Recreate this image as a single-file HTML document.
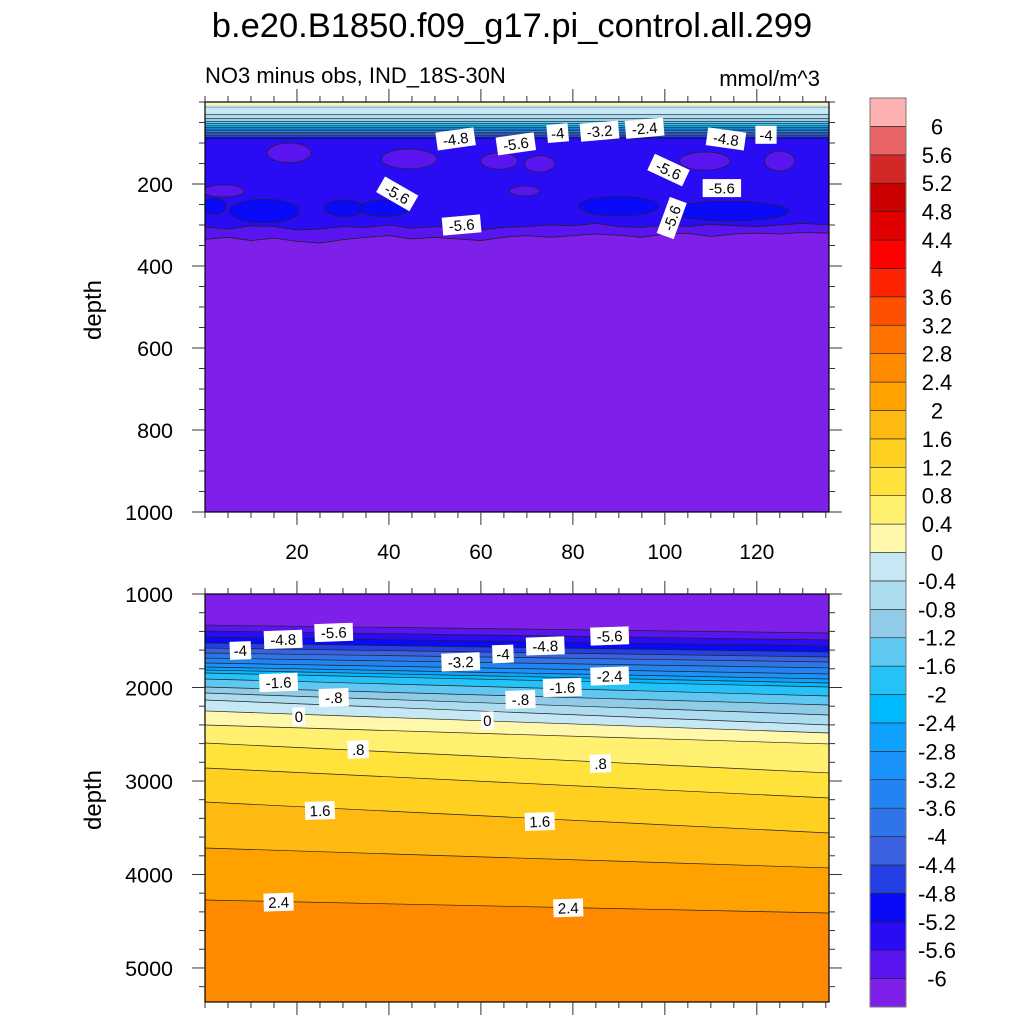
<!DOCTYPE html>
<html><head><meta charset="utf-8"><style>
html,body{margin:0;padding:0;background:#fff;}
svg{display:block;font-family:"Liberation Sans",sans-serif;}
</style></head><body>
<svg id="chart" width="1024" height="1024" viewBox="0 0 1024 1024" xmlns="http://www.w3.org/2000/svg">
<rect x="0" y="0" width="1024" height="1024" fill="#fff"/>
<text x="512" y="37" font-size="34.5" text-anchor="middle">b.e20.B1850.f09_g17.pi_control.all.299</text>
<text x="205" y="83" font-size="22">NO3 minus obs, IND_18S-30N</text>
<text x="820" y="86" font-size="22" text-anchor="end">mmol/m^3</text>
<text x="0" y="0" font-size="24" text-anchor="middle" transform="translate(101,310) rotate(-90)">depth</text>
<text x="0" y="0" font-size="24" text-anchor="middle" transform="translate(101,800) rotate(-90)">depth</text>
<g id="topPanel"></g>
<g id="botPanel"></g>
<g id="cbar"></g>
</svg>
<script>
// ---- data ----
const levels = [-6,-5.6,-5.2,-4.8,-4.4,-4,-3.6,-3.2,-2.8,-2.4,-2,-1.6,-1.2,-0.8,-0.4,0,0.4,0.8,1.2,1.6,2,2.4,2.8,3.2,3.6,4,4.4,4.8,5.2,5.6,6];
const levelLabels = ["-6","-5.6","-5.2","-4.8","-4.4","-4","-3.6","-3.2","-2.8","-2.4","-2","-1.6","-1.2","-0.8","-0.4","0","0.4","0.8","1.2","1.6","2","2.4","2.8","3.2","3.6","4","4.4","4.8","5.2","5.6","6"];
const binColors = ["#7f1fea","#5914ef","#2a0cf4","#0a0af8","#2440e4","#3a62e0","#3074ea","#2284f2","#1a92fc","#0ea2fe","#00baff","#24c2f8","#5ec8f2","#90cce8","#acdcf0","#c6e8f5","#fff8aa","#fff070","#ffe23a","#ffd020","#ffba12","#ffa200","#ff8a00","#ff7200","#ff5000","#ff2400","#ff0000","#e00000","#cc0000","#d42828","#e86464","#ffb0b0"];
const xTicks = [20,40,60,80,100,120];
const topYTicks = [200,400,600,800,1000];
const botYTicks = [1000,2000,3000,4000,5000];
// bottom panel contour lines: level, depth at left edge, depth at right edge
const botLineLevels = [-6,-5.6,-5.2,-4.8,-4.4,-4,-3.6,-3.2,-2.8,-2.4,-2,-1.6,-1.2,-0.8,-0.4,0,0.4,0.8,1.2,1.6,2,2.4];
const botLineLeft  = [1332,1396,1460,1524,1578,1631,1685,1738,1781,1813,1845,1909,1995,2059,2134,2251,2401,2594,2861,3225,3717,4273];
const botLineRight = [1417,1492,1556,1620,1674,1727,1791,1856,1909,1952,1995,2091,2187,2294,2401,2487,2604,2914,3182,3556,3930,4412];
// top panel surface contour levels and depths
const topSurfLevels = [0,-0.4,-0.8,-1.2,-1.6,-2,-2.4,-2.8,-3.2,-3.6,-4,-4.4,-4.8,-5.2];
const topSurfDepths = [12,30,40,47,53,58,62,66,70,74,78,82,86,90];
// top panel deep boundaries per column
const topColX = [0,5,10,15,20,25,30,35,40,45,50,55,60,65,70,75,80,85,90,95,100,105,110,115,120,125,130,135.7];
const topLine56 = [305,310,302,304,312,310,304,306,300,308,304,308,312,306,304,300,302,296,304,306,300,304,298,302,304,300,296,300];
const topLine60 = [335,330,338,332,340,344,336,330,326,334,330,334,338,330,326,330,326,322,325,330,322,320,328,322,320,322,318,320];
// patches: x, depth, rx (x units), ry (m)
const purpX = [18.3,44.4,64,72.8,108.7,125,4.1,69.5];
const purpD = [124,139,144,151,144,144,217,217];
const purpRX = [4.8,6,4,3.3,5.5,3.3,4.4,3.3];
const purpRY = [24,24,20,20,22,24,15,12];
const blueX = [12.9,30.3,39,114,90,2];
const blueD = [266,259,259,266,254,254];
const blueRX = [7.6,4.4,5.4,13,8.7,2.6];
const blueRY = [29,20,20,24,24,20];
// labels
const topLabText = ["-4.8","-5.6","-4","-3.2","-2.4","-4.8","-4","-5.6","-5.6","-5.6","-5.6","-5.6"];
const topLabX = [54.5,67.6,76.7,85.8,95.6,113.3,122,100.8,112.4,41.8,55.8,101.5];
const topLabD = [90,102,76,71,64,90,80,166,210,224,300,283];
const topLabRot = [-8,-8,-5,-5,-5,8,0,25,0,30,-5,-70];
const botLabText = ["-5.6","-4.8","-4","-1.6","-.8","0","0.8","1.6","2.4","-3.2","-4","-4.8","-5.6","-2.4","-1.6","-.8","0","0.8","1.6","2.4"];
const botLabX = [28,17,7.7,16,28,20.4,33.3,25,16,55.6,64.8,74,88,88,77.7,68.6,61.4,86,72.8,79];
const botLabD = [1411,1486,1604,1946,2107,2310,2663,3316,4296,1727,1641,1555,1449,1877,2000,2128,2353,2813,3433,4357];
// ---- scales ----
const TX0=205,TX1=829, XMIN=0, XMAX=135.7;
const sx = v => TX0 + (v-XMIN)/(XMAX-XMIN)*(TX1-TX0);
const TY0=102,TY1=512, sTop = d => TY0 + d/1000*(TY1-TY0);
const BY0=594,BY1=1002, BDMIN=1000, BDMAX=5364, sBot = d => BY0 + (d-BDMIN)/(BDMAX-BDMIN)*(BY1-BY0);
const NS="http://www.w3.org/2000/svg";
function mk(tag, attrs, parent){const e=document.createElementNS(NS,tag);for(const k in attrs)e.setAttribute(k,attrs[k]);parent.appendChild(e);return e;}
function binAbove(v){return binColors[levels.indexOf(v)+1];}
function binBelow(v){return binColors[levels.indexOf(v)];}
const topG=document.getElementById('topPanel'), botG=document.getElementById('botPanel'), cbG=document.getElementById('cbar');
const defs=mk('defs',{},document.getElementById('chart'));
const c1=mk('clipPath',{id:'ctop'},defs); mk('rect',{x:TX0,y:TY0,width:TX1-TX0,height:TY1-TY0},c1);
const c2=mk('clipPath',{id:'cbot'},defs); mk('rect',{x:TX0,y:BY0,width:TX1-TX0,height:BY1-BY0},c2);
const tg=mk('g',{'clip-path':'url(#ctop)'},topG);
const bg=mk('g',{'clip-path':'url(#cbot)'},botG);
// ---- top panel ----
let r=mk('rect',{x:TX0,y:TY0,width:TX1-TX0,height:TY1-TY0,fill:binColors[0]},tg);


function colPath(arr){return topColX.map((x,i)=>sx(x)+','+sTop(arr[i])).join(' ');}
function colPoly(arr,fill,nm){
  const pts=sx(XMIN)+','+TY0+' '+colPath(arr)+' '+sx(XMAX)+','+TY0;
  const p=mk('polygon',{points:pts,fill:fill,stroke:'none'},tg);
  
  
  const l=mk('polyline',{points:colPath(arr),fill:'none',stroke:'#222',"stroke-width":0.8},tg);
  
  
}
colPoly(topLine60, binAbove(-6), 'band-minus6');
colPoly(topLine56, binAbove(-5.6), 'band-minus5-6');
purpX.forEach((x,i)=>{
  const e=mk('ellipse',{cx:sx(x),cy:sTop(purpD[i]),rx:sx(x+purpRX[i])-sx(x),ry:sTop(purpRY[i])-sTop(0),fill:binAbove(-6),stroke:'#222','stroke-width':0.7},tg);
  
  
});
blueX.forEach((x,i)=>{
  const e=mk('ellipse',{cx:sx(x),cy:sTop(blueD[i]),rx:sx(x+blueRX[i])-sx(x),ry:sTop(blueRY[i])-sTop(0),fill:binAbove(-5.2),stroke:'#222','stroke-width':0.7},tg);
  
  
});
for(let i=topSurfLevels.length-1;i>=0;i--){
  const y=sTop(topSurfDepths[i]);
  const p=mk('rect',{x:TX0,y:TY0,width:TX1-TX0,height:y-TY0,fill:binAbove(topSurfLevels[i])},tg);
  
  
  const l=mk('line',{x1:TX0,x2:TX1,y1:y,y2:y,stroke:'#222','stroke-width':0.6},tg);
  
  
}
{const y=sTop(topSurfDepths[0]);const p=mk('rect',{x:TX0,y:TY0,width:TX1-TX0,height:y-TY0-1,fill:binAbove(0)},tg);
 
 mk('rect',{x:TX0,y:TY0+3,width:TX1-TX0,height:y-TY0-3,fill:binBelow(0)},tg);}
// ---- bottom panel ----
r=mk('rect',{x:TX0,y:BY0,width:TX1-TX0,height:BY1-BY0,fill:binAbove(2.4)},bg);


for(let i=botLineLevels.length-1;i>=0;i--){
  const yl=sBot(botLineLeft[i]), yr=sBot(botLineRight[i]);
  const p=mk('polygon',{points:`${TX0},${BY0} ${TX0},${yl} ${TX1},${yr} ${TX1},${BY0}`,fill:binBelow(botLineLevels[i])},bg);
  
  
}
botLineLevels.forEach((v,i)=>{
  const l=mk('line',{x1:TX0,y1:sBot(botLineLeft[i]),x2:TX1,y2:sBot(botLineRight[i]),stroke:'#222','stroke-width':0.7},bg);
  
  
});
// ---- labels ----
function label(g,txt,x,y,rot,nm){
  const gg=mk('g',{transform:`translate(${x},${y}) rotate(${rot})`},g);
  
  
  const w=txt.length*8.6+4;
  mk('rect',{x:-w/2,y:-9,width:w,height:18,fill:'#fff'},gg);
  const t=mk('text',{x:0,y:5.5,'font-size':15,'text-anchor':'middle'},gg);
  t.textContent=txt;
}
topLabText.forEach((t,i)=>label(tg,t,sx(topLabX[i]),sTop(topLabD[i]),topLabRot[i],'top-contour-label'));
botLabText.forEach((t,i)=>label(bg,t.replace(/^0\./,'.'),sx(botLabX[i]),sBot(botLabD[i]),-2,'bottom-contour-label'));
// ---- axes ----
function frame(g,y0,y1,yticks,minorStep,dmin,dmax,sy,showX,nm){
  const f=mk('rect',{x:TX0,y:y0,width:TX1-TX0,height:y1-y0,fill:'none',stroke:'#000','stroke-width':1.2},g);
  
  
  for(let v=0;v<=XMAX;v+=5){
    const major=xTicks.includes(v);const L=major?13:6;const x=sx(v);
    mk('line',{x1:x,x2:x,y1:y0,y2:y0-L,stroke:'#333','stroke-width':1},g);
    mk('line',{x1:x,x2:x,y1:y1,y2:y1+L,stroke:'#333','stroke-width':1},g);
  }
  if(showX) xTicks.forEach(v=>{const t=mk('text',{x:sx(v),y:y1+47,'font-size':21,'text-anchor':'middle'},g);t.textContent=v;
    });
  for(let d=Math.ceil(dmin/minorStep)*minorStep; d<=dmax; d+=minorStep){
    const major=yticks.includes(d);const L=major?13:6;const y=sy(d);
    mk('line',{x1:TX0,x2:TX0-L,y1:y,y2:y,stroke:'#333','stroke-width':1},g);
    mk('line',{x1:TX1,x2:TX1+L,y1:y,y2:y,stroke:'#333','stroke-width':1},g);
  }
  yticks.forEach(d=>{const t=mk('text',{x:TX0-32,y:sy(d)+8,'font-size':21.5,'text-anchor':'end'},g);t.textContent=d;
    });
}
frame(topG,TY0,TY1,topYTicks,50,0,1000,sTop,true,'top');
frame(botG,BY0,BY1,botYTicks,200,1000,BDMAX,sBot,false,'bottom');
// ---- colorbar ----
const CX=870,CW=36,CY0=98,CY1=1007,nb=binColors.length,bh=(CY1-CY0)/nb;
binColors.forEach((c,i)=>{
  const y=CY1-(i+1)*bh;
  const b=mk('rect',{x:CX,y:y,width:CW,height:bh,fill:c,stroke:'#222','stroke-width':0.6},cbG);
  
  
});
mk('rect',{x:CX,y:CY0,width:CW,height:CY1-CY0,fill:'none',stroke:'#777','stroke-width':1},cbG);
levelLabels.forEach((t,i)=>{
  const y=CY1-(i+1)*bh;
  const tx=mk('text',{x:937,y:y+8,'font-size':22,'text-anchor':'middle'},cbG);
  tx.textContent=t;
  
  
});
</script>
</body></html>
